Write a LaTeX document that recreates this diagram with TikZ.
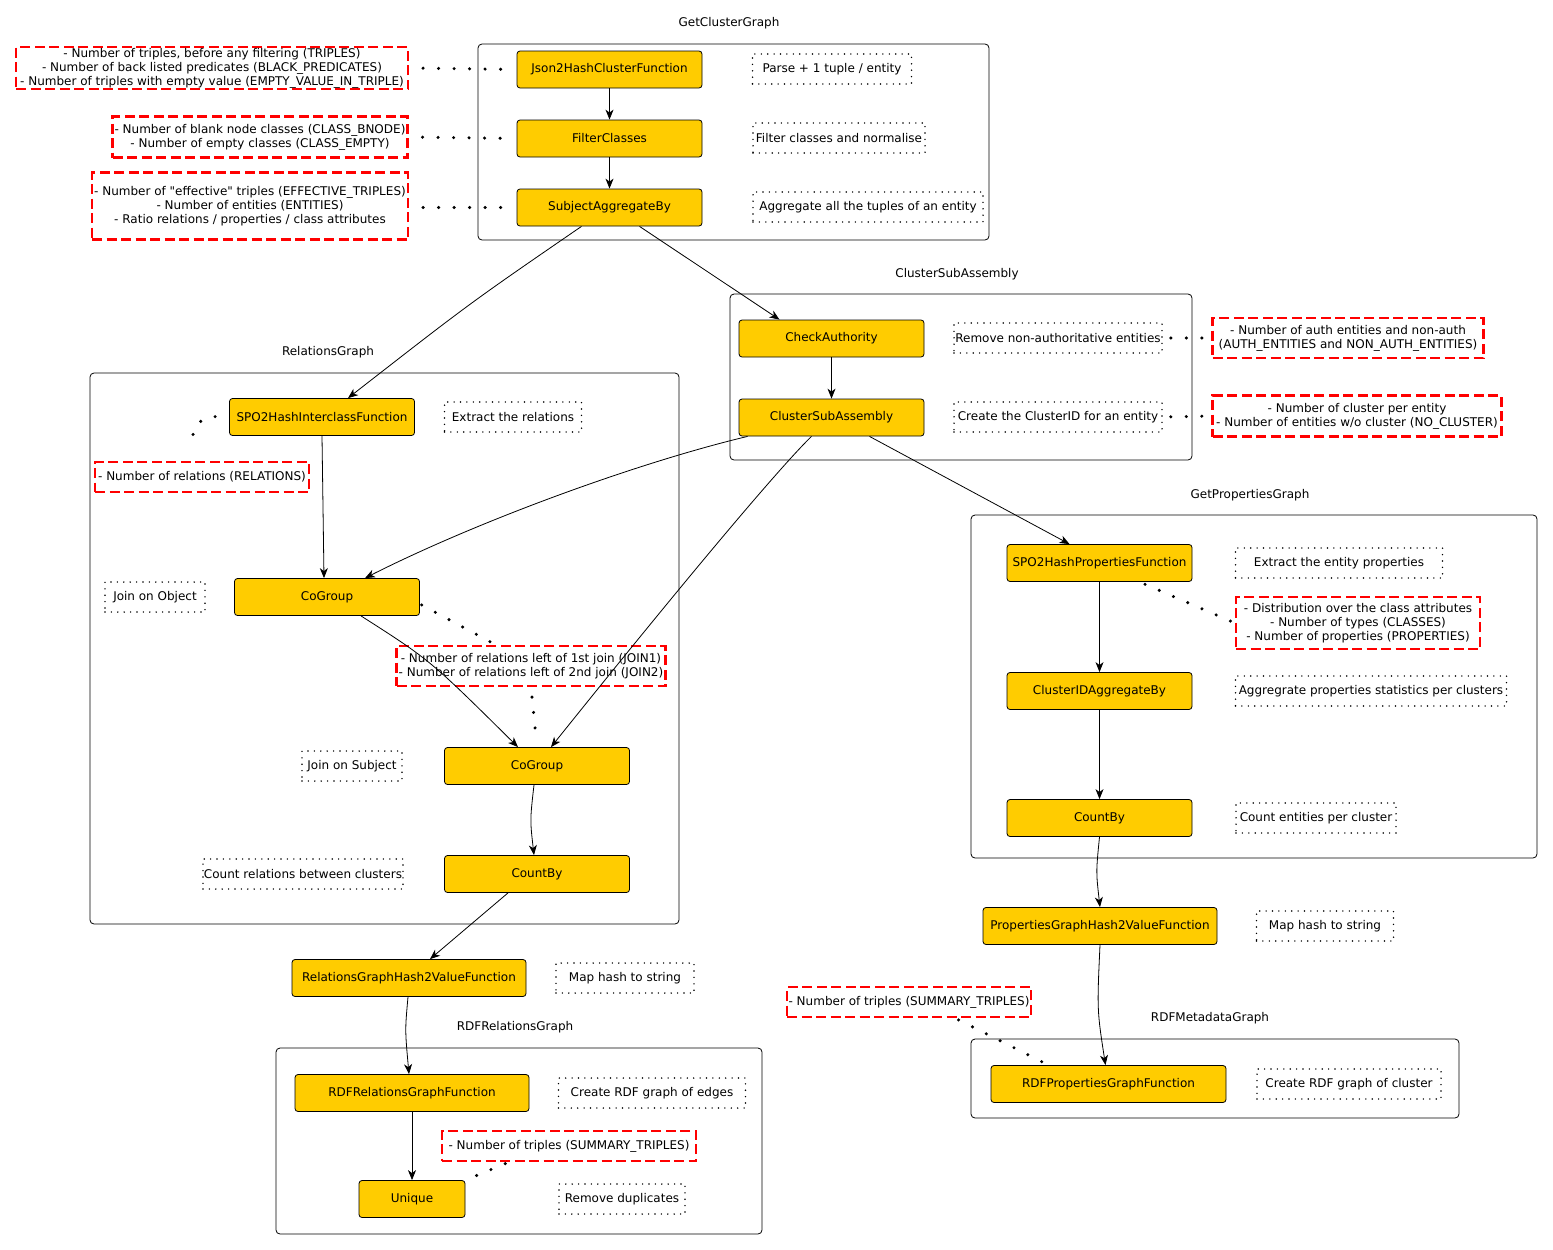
\documentclass[tikz,border=0pt]{standalone}
\usepackage{fontspec}
\setmainfont{DejaVu Sans}
\usetikzlibrary{calc}
\usetikzlibrary{arrows.meta}
\definecolor{jaune}{HTML}{FFCC00}
\tikzset{
  etape/.style={draw, fill=jaune, rounded corners=3pt, line width=0.8pt,
    minimum width=185pt, minimum height=37pt, inner sep=0pt},
  cadre/.style={draw, rounded corners=4pt, line width=0.8pt},
  note/.style={draw, dash pattern=on 0pt off 6.4pt, line cap=round,
    line width=1.6pt, minimum height=30pt, inner sep=1pt},
  mesure/.style={draw=red, dash pattern=on 10pt off 4.5pt, line width=2.2pt,
    align=center, inner sep=1pt},
  lien/.style={line width=3.4pt, dash pattern=on 0pt off 15.5pt, line cap=round,
    shorten <=10pt, shorten >=10pt},
  fleche/.style={-{Stealth[length=10pt,width=8pt,inset=3pt]}, line width=0.8pt}
}
\begin{document}
\begin{tikzpicture}[x=1pt,y=-1pt,font=\fontsize{12}{14}\selectfont]
  \useasboundingbox (0,0) rectangle (1553,1250);

  % Cadres des sous-graphes
  \draw[cadre] (478,44) rectangle (989,240);
  \draw[cadre] (730,294) rectangle (1192,460);
  \draw[cadre] (90,373) rectangle (679,924);
  \draw[cadre] (971,515) rectangle (1537,858);
  \draw[cadre] (276,1048) rectangle (762,1234);
  \draw[cadre] (971,1039) rectangle (1459,1118);

  % Titres des sous-graphes
  \node (tGet) at (729,23) {GetClusterGraph};
  \node (tSub) at (957,274) {ClusterSubAssembly};
  \node (tRel) at (328,352) {RelationsGraph};
  \node (tProp) at (1250,495) {GetPropertiesGraph};
  \node (tRdfRel) at (515,1027) {RDFRelationsGraph};
  \node (tRdfMeta) at (1210,1018) {RDFMetadataGraph};

  % Etapes
  \node[etape] (json) at (609.5,69.5) {Json2HashClusterFunction};
  \node[etape] (filter) at (609.5,138.5) {FilterClasses};
  \node[etape] (subj) at (609.5,207.5) {SubjectAggregateBy};
  \node[etape] (check) at (831.5,338.5) {CheckAuthority};
  \node[etape] (csa) at (831.5,417.5) {ClusterSubAssembly};
  \node[etape] (spoInter) at (322,417) {SPO2HashInterclassFunction};
  \node[etape] (cogroupA) at (327,597) {CoGroup};
  \node[etape] (cogroupB) at (537,766) {CoGroup};
  \node[etape] (countA) at (537,874) {CountBy};
  \node[etape, minimum width=234pt] (relHash) at (409,978) {RelationsGraphHash2ValueFunction};
  \node[etape, minimum width=234pt] (rdfRel) at (412,1093) {RDFRelationsGraphFunction};
  \node[etape, minimum width=106pt] (unique) at (412,1199) {Unique};
  \node[etape] (spoProp) at (1099.5,563) {SPO2HashPropertiesFunction};
  \node[etape] (clusterAgg) at (1099.5,691) {ClusterIDAggregateBy};
  \node[etape] (countB) at (1099.5,818) {CountBy};
  \node[etape, minimum width=234pt] (propHash) at (1100,926) {PropertiesGraphHash2ValueFunction};
  \node[etape, minimum width=235pt] (rdfProp) at (1108.5,1084) {RDFPropertiesGraphFunction};

  % Commentaires
  \node[note, minimum width=159pt] (nParse) at (832,69) {Parse + 1 tuple / entity};
  \node[note, minimum width=172pt] (nFilter) at (839,138) {Filter classes and normalise};
  \node[note, minimum width=230pt] (nAggr) at (868,207) {Aggregate all the tuples of an entity};
  \node[note, minimum width=208pt] (nRemove) at (1058,338) {Remove non-authoritative entities};
  \node[note, minimum width=208pt] (nCreate) at (1058,417) {Create the ClusterID for an entity};
  \node[note, minimum width=137pt] (nExtract) at (513,417) {Extract the relations};
  \node[note, minimum width=100pt] (nJoinObj) at (155,597) {Join on Object};
  \node[note, minimum width=100pt] (nJoinSubj) at (352,766) {Join on Subject};
  \node[note, minimum width=200pt] (nCountRel) at (303,874) {Count relations between clusters};
  \node[note, minimum width=138pt] (nMapA) at (625,978) {Map hash to string};
  \node[note, minimum width=187pt] (nEdges) at (652,1093) {Create RDF graph of edges};
  \node[note, minimum width=126pt] (nDup) at (622,1199) {Remove duplicates};
  \node[note, minimum width=207pt] (nEntProp) at (1339,563) {Extract the entity properties};
  \node[note, minimum width=271pt] (nAggrProp) at (1371,691) {Aggregrate properties statistics per clusters};
  \node[note, minimum width=160pt] (nCountEnt) at (1316,818) {Count entities per cluster};
  \node[note, minimum width=137pt] (nMapB) at (1325,926) {Map hash to string};
  \node[note, minimum width=184pt] (nCluster) at (1349,1084) {Create RDF graph of cluster};

  % Mesures
  \node[mesure, minimum width=392pt, minimum height=42pt] (mTriples) at (212,68)
    {- Number of triples, before any filtering (TRIPLES)\\- Number of back listed predicates (BLACK\_PREDICATES)\\- Number of triples with empty value (EMPTY\_VALUE\_IN\_TRIPLE)};
  \node[mesure, minimum width=295pt, minimum height=41pt] (mClasses) at (260,137)
    {- Number of blank node classes (CLASS\_BNODE)\\- Number of empty classes (CLASS\_EMPTY)};
  \node[mesure, minimum width=316pt, minimum height=67pt] (mEntities) at (250,206)
    {- Number of \textquotedbl effective\textquotedbl{} triples (EFFECTIVE\_TRIPLES)\\- Number of entities (ENTITIES)\\- Ratio relations / properties / class attributes};
  \node[mesure, minimum width=271pt, minimum height=40pt] (mAuth) at (1348,338)
    {- Number of auth entities and non-auth\\(AUTH\_ENTITIES and NON\_AUTH\_ENTITIES)};
  \node[mesure, minimum width=289pt, minimum height=41pt] (mCluster) at (1357,416)
    {- Number of cluster per entity\\- Number of entities w/o cluster (NO\_CLUSTER)};
  \node[mesure, minimum width=214pt, minimum height=30pt] (mRelations) at (202,477)
    {- Number of relations (RELATIONS)};
  \node[mesure, minimum width=269pt, minimum height=40pt] (mJoin) at (531,666)
    {- Number of relations left of 1st join (JOIN1)\\- Number of relations left of 2nd join (JOIN2)};
  \node[mesure, minimum width=254pt, minimum height=30pt] (mSumRel) at (569,1146)
    {- Number of triples (SUMMARY\_TRIPLES)};
  \node[mesure, minimum width=244pt, minimum height=30pt] (mSumProp) at (909,1002)
    {- Number of triples (SUMMARY\_TRIPLES)};
  \node[mesure, minimum width=244pt, minimum height=52pt] (mProps) at (1358,623)
    {- Distribution over the class attributes\\- Number of types (CLASSES)\\- Number of properties (PROPERTIES)};

  % Liens pointilles
  \draw[lien, shorten <=14pt, shorten >=14pt] (mTriples.east) -- (json.west);
  \draw[lien, shorten <=14pt, shorten >=14pt] (mClasses.east) -- (filter.west);
  \draw[lien, shorten <=14pt, shorten >=14pt] (mEntities.east |- subj.west) -- (subj.west);
  \draw[lien, shorten <=8pt, shorten >=8pt] (nRemove.east) -- (mAuth.west);
  \draw[lien, shorten <=8pt, shorten >=8pt] (nCreate.east) -- (mCluster.west);
  \draw[lien, shorten <=14pt, shorten >=12pt] (spoInter.west) .. controls (195,416) and (191,436) .. ([xshift=-10pt]mRelations.north);
  \draw[lien, shorten <=2pt, shorten >=4pt] ([yshift=-7pt]cogroupA.east) -- ([xshift=-35pt]mJoin.north);
  \draw[lien] (mJoin.south) -- (cogroupB.north);
  \draw[lien, shorten <=4pt, shorten >=2pt] ([xshift=-60pt]mSumRel.south) -- (unique.north east);
  \draw[lien, shorten <=6pt, shorten >=4pt] ([xshift=40pt]spoProp.south) -- (mProps.west);
  \draw[lien, shorten <=4pt, shorten >=6pt] ([xshift=46pt]mSumProp.south) -- ([xshift=-60pt]rdfProp.north);

  % Fleches
  \draw[fleche] (json) -- (filter);
  \draw[fleche] (filter) -- (subj);
  \draw[fleche] ([xshift=30pt]subj.south) -- ([xshift=-52pt]check.north);
  \draw[fleche] ([xshift=-28pt]subj.south) .. controls (470,303) .. ([xshift=26pt]spoInter.north);
  \draw[fleche] (check) -- (csa);
  \draw[fleche] ([xshift=9pt]csa.south west) .. controls (640,462) and (480,520) .. ([xshift=38pt]cogroupA.north);
  \draw[fleche] ([xshift=-20pt]csa.south) .. controls (785,462) and (705,555) .. ([xshift=14pt]cogroupB.north);
  \draw[fleche] ([xshift=38pt]csa.south) -- ([xshift=-30pt]spoProp.north);
  \draw[fleche] (spoInter.south) -- ([xshift=-3pt]cogroupA.north);
  \draw[fleche] ([xshift=34pt]cogroupA.south) .. controls (430,660) .. ([xshift=-19pt]cogroupB.north);
  \draw[fleche] ([xshift=-3pt]cogroupB.south) .. controls (530,820) .. ([xshift=-3pt]countA.north);
  \draw[fleche] ([xshift=-29pt]countA.south) -- ([xshift=21pt]relHash.north);
  \draw[fleche] ([xshift=-1pt]relHash.south) .. controls (405,1030) .. ([xshift=-3pt]rdfRel.north);
  \draw[fleche] (rdfRel) -- (unique);
  \draw[fleche] (spoProp) -- (clusterAgg);
  \draw[fleche] (clusterAgg) -- (countB);
  \draw[fleche] (countB.south) .. controls (1096,872) .. (propHash.north);
  \draw[fleche] (propHash.south) .. controls (1097,1010) .. ([xshift=-3pt]rdfProp.north);
\end{tikzpicture}
\end{document}
